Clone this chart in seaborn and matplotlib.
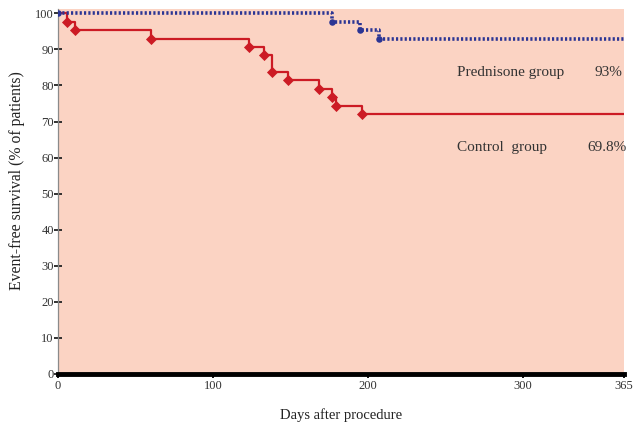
import matplotlib
matplotlib.use("Agg")
import matplotlib.pyplot as plt
import seaborn as sns
import pandas as pd

# Kaplan-Meier style data
control_days = [0, 6, 11, 60, 123, 133, 138, 148, 168, 177, 179, 196, 365]
control_surv = [100, 97.7, 95.3, 93.0, 90.7, 88.4, 83.7, 81.4, 79.1, 76.7, 74.4, 72.1, 72.1]
pred_days = [0, 177, 195, 207, 365]
pred_surv = [100, 97.7, 95.3, 93.0, 93.0]

x_ticks = [0, 100, 200, 300, 365]
y_ticks = list(range(0, 101, 10))

RED = "#cc1b24"
BLUE = "#2b3594"
BG = "#fbd3c3"

sns.set_style("white")
plt.rcParams["font.family"] = ["Liberation Serif", "DejaVu Serif"]

fig = plt.figure(figsize=(6.4, 4.26), dpi=100)
ax = fig.add_axes([58 / 640, 1 - 374 / 426, 566 / 640, 365 / 426])
ax.set_facecolor(BG)

ctrl = pd.DataFrame({"day": control_days, "surv": control_surv})
pred = pd.DataFrame({"day": pred_days, "surv": pred_surv})

sns.lineplot(data=ctrl, x="day", y="surv", ax=ax, color=RED, lw=1.6,
             drawstyle="steps-post", sort=False, zorder=3)
sns.lineplot(data=pred, x="day", y="surv", ax=ax, color=BLUE, lw=2.6,
             drawstyle="steps-post", sort=False, dashes=False, zorder=4,
             linestyle=(0, (0.6, 0.6)))

sns.scatterplot(data=ctrl.iloc[1:-1], x="day", y="surv", ax=ax, color=RED,
                marker="D", s=32, linewidth=0, zorder=5)
sns.scatterplot(data=pred.iloc[:-1], x="day", y="surv", ax=ax, color=BLUE,
                marker="o", s=22, linewidth=0, zorder=6)

ax.set_xlim(0, 365)
ax.set_ylim(0, 101.2)
ax.set_xticks(x_ticks)
ax.set_yticks(y_ticks)

for s in ["top", "right"]:
    ax.spines[s].set_visible(False)
ax.spines["left"].set_color("#8a8a8a")
ax.spines["left"].set_linewidth(0.9)
ax.spines["bottom"].set_color("black")
ax.spines["bottom"].set_linewidth(3.5)
ax.spines["bottom"].set_zorder(7)

ax.tick_params(axis="y", direction="inout", length=6, width=1.3, color="#222222",
               labelsize=9, pad=0, left=True)
ax.tick_params(axis="x", direction="out", length=3, width=1.3, color="black",
               labelsize=9, pad=1, bottom=True)
for lab in ax.get_xticklabels() + ax.get_yticklabels():
    lab.set_color("#333333")

ax.set_xlabel("Days after procedure", fontsize=10.5, labelpad=12, color="#222222")
ax.set_ylabel("Event-free survival (% of patients)", fontsize=11.3, color="#222222")
ax.yaxis.set_label_coords(-0.058, 0.53)

ax.text(257, 83.5, "Prednisone group", fontsize=11, color="#333333", va="center")
ax.text(364, 83.5, "93%", fontsize=11, color="#333333", va="center", ha="right")
ax.text(257, 62.8, "Control  group", fontsize=11, color="#333333", va="center")
ax.text(367, 62.8, "69.8%", fontsize=11, color="#333333", va="center", ha="right",
        clip_on=False)

fig.savefig("out.png", dpi=100, facecolor="white")
